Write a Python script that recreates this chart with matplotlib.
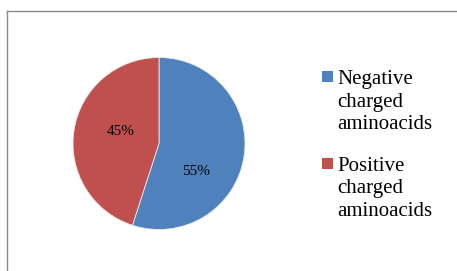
import matplotlib.pyplot as plt
from matplotlib.patches import Rectangle
from matplotlib.lines import Line2D

# Share of charged amino acids
labels = ['Negative\ncharged\naminoacids', 'Positive\ncharged\naminoacids']
shares = [55, 45]
colors = ['#4F81BD', '#C0504D']

plt.rcParams['font.family'] = ['Liberation Serif', 'DejaVu Serif']

W, H = 457, 271
fig = plt.figure(figsize=(W / 100, H / 100), dpi=100)

# pie axes: centre (159, 143.5) px, radius 86 px
cx, cy, r = 159, 143.5, 86
ax = fig.add_axes([(cx - r) / W, (H - cy - r) / H, 2 * r / W, 2 * r / H])
wedges, texts, autotexts = ax.pie(shares, colors=colors, startangle=90, counterclock=False,
                                  autopct='%1.0f%%', pctdistance=0.55,
                                  wedgeprops=dict(edgecolor='#e8e8e8', linewidth=0.6),
                                  textprops=dict(fontsize=11, color='black'))
ax.set_xlim(-1, 1)
ax.set_ylim(-1, 1)
ax.set_aspect('equal')

# Excel-style label placement
autotexts[0].set_position((0.43, -0.32))
autotexts[1].set_position((-0.44, 0.14))

# legend drawn by hand
legend_tops = [70, 157]
for lab, col, top in zip(labels, colors, legend_tops):
    fig.patches.append(Rectangle((322 / W, 1 - (top + 12) / H), 11 / W, 11 / H,
                                 transform=fig.transFigure, facecolor=col, edgecolor='none'))
    fig.text(337 / W, 1 - top / H, lab, fontsize=15, va='top', ha='left', linespacing=1.25)

# chart frame (only top and left edges visible)
fig.lines.append(Line2D([7 / W, 1], [1 - 11 / H, 1 - 11 / H], transform=fig.transFigure,
                        color='#8a8a8a', lw=1.0))
fig.lines.append(Line2D([7 / W, 7 / W], [0, 1 - 11 / H], transform=fig.transFigure,
                        color='#8a8a8a', lw=1.0))

fig.savefig('out.png', dpi=100)
